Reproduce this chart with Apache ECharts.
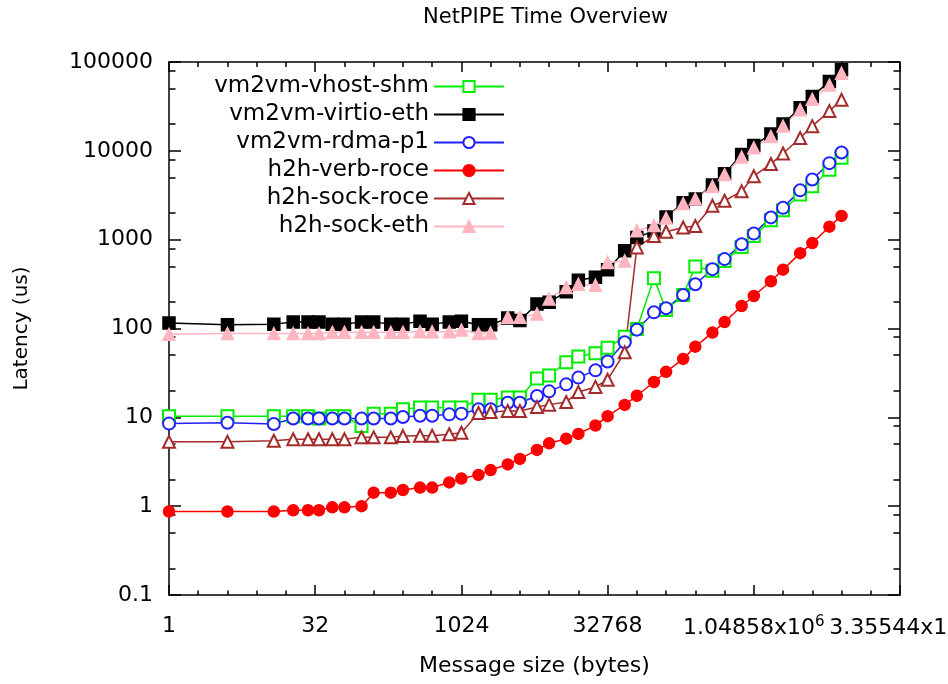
<!DOCTYPE html>
<html>
<head>
<meta charset="utf-8">
<title>NetPIPE Time Overview</title>
<script src="https://cdn.jsdelivr.net/npm/echarts@6/dist/echarts.min.js"></script>
<style>
  html, body { margin: 0; padding: 0; background: #fff; }
  #chart { width: 948px; height: 684px; }
</style>
</head>
<body>
<div id="chart"></div>
<script>
// message sizes (bytes)
var sizes = [1, 4, 12, 19, 27, 35, 48, 64, 96, 128, 192, 256, 384, 512, 768, 1024,
    1536, 2048, 3072, 4096, 6144, 8192, 12288, 16384, 24576, 32768, 49152, 65536,
    98304, 131072, 196608, 262144, 393216, 524288, 786432, 1048576, 1572864,
    2097152, 3145728, 4194304, 6291456, 8388608];

// latency (us)
var vhostShm = [10.3, 10.3, 10.3, 10.3, 10.3, 9.7, 10.3, 10.3, 8.0, 11.0, 11.0, 12.3,
    12.9, 12.9, 12.9, 12.9, 15.8, 15.8, 16.7, 16.7, 27.3, 29.6, 41.8, 48.5, 52.8, 60.9,
    81, 99, 367, 162, 238, 500, 446, 577, 826, 1100, 1650, 2140, 3230, 4000, 6130, 8380];
var virtioEth = [115, 110, 112, 118, 118, 118, 112, 112, 118, 118, 112, 112, 121, 112,
    118, 121, 110, 110, 131, 123, 189, 197, 260, 350, 377, 458, 751, 1060, 1250, 1800,
    2600, 2870, 4120, 5530, 9100, 11450, 15500, 20000, 30600, 41000, 60500, 81600];
var rdmaP1 = [8.5, 8.7, 8.4, 9.7, 9.7, 9.7, 9.7, 9.7, 9.7, 9.7, 9.7, 10.1, 10.4, 10.4,
    10.8, 11.0, 12.3, 12.3, 14.6, 14.6, 17.4, 19.6, 23.5, 28.0, 33.8, 42.5, 70, 97, 152,
    169, 238, 315, 466, 604, 888, 1170, 1780, 2280, 3590, 4750, 7270, 9570];
var verbRoce = [0.87, 0.87, 0.87, 0.9, 0.9, 0.9, 0.97, 0.97, 1.0, 1.42, 1.42, 1.52,
    1.62, 1.62, 1.85, 2.05, 2.25, 2.55, 2.95, 3.4, 4.3, 5.1, 5.75, 6.5, 8.1, 10.3, 13.8,
    17.5, 25, 32.5, 45.5, 62.5, 90, 118, 179, 232, 340, 460, 705, 915, 1400, 1850];
var sockRoce = [5.3, 5.3, 5.45, 5.67, 5.67, 5.67, 5.67, 5.67, 5.95, 5.95, 5.95, 6.15,
    6.2, 6.2, 6.45, 6.7, 11.2, 11.5, 11.8, 11.8, 13.1, 13.9, 14.9, 19.3, 22.0, 26.5, 54,
    818, 1100, 1230, 1370, 1425, 2410, 2740, 3500, 5180, 7120, 9340, 13950, 18950,
    28000, 37500];
var sockEth = [86, 87.6, 87.6, 87.6, 87.6, 87.6, 90.5, 90.5, 90.5, 90.5, 90.5, 90.5, 92,
    92, 92, 96, 87.6, 89, 134, 134, 146, 215, 290, 315, 307, 553, 577, 1262, 1445, 1750,
    2550, 2870, 3975, 5400, 8500, 10800, 14500, 19000, 29000, 38000, 55000, 74700];

var seriesNames = ['vm2vm-vhost-shm', 'vm2vm-virtio-eth', 'vm2vm-rdma-p1',
    'h2h-verb-roce', 'h2h-sock-roce', 'h2h-sock-eth'];
var minorSteps = [2, 5, 8];   // minor tics inside each decade

var FONT = 'DejaVu Sans';
var axisColor = '#000';

// minor tic values for the log10 axis
var yMinor = [];
for (var p = -1; p < 5; p++) {
    minorSteps.forEach(function (m) { yMinor.push(+(m * Math.pow(10, p)).toPrecision(3)); });
}

function fmtSize(v) {
    if (v < 1e6) return String(v);
    var e = Math.floor(Math.log10(v));
    var m = +(v / Math.pow(10, e)).toPrecision(6);
    return '{n|' + m + 'x10}{s|' + e + '}';
}

function pairs(vals) {
    return sizes.map(function (s, i) { return [s, vals[i]]; });
}

function line(name, vals, color, symbol, size) {
    return {
        name: name,
        type: 'line',
        data: pairs(vals),
        symbol: symbol,
        symbolSize: size,
        showAllSymbol: true,
        xAxisIndex: 0,
        yAxisIndex: 0,
        lineStyle: { color: color, width: 1.5 },
        itemStyle: { color: color, borderColor: color, borderWidth: 1.5 },
        emphasis: { disabled: true }
    };
}

function xAx(pos, interval, len, showLine, showLabel) {
    return {
        type: 'log', logBase: 2, min: 1, max: 33554432, interval: interval,
        position: pos,
        axisLine: { show: showLine, onZero: false, lineStyle: { color: axisColor, width: 1.5 } },
        axisTick: { show: true, inside: true, length: len, lineStyle: { color: axisColor, width: 1.5 } },
        axisLabel: showLabel ? {
            formatter: fmtSize, margin: 20, color: '#000', fontFamily: FONT, fontSize: 22,
            rich: {
                n: { fontFamily: FONT, fontSize: 22, color: '#000' },
                s: { fontFamily: FONT, fontSize: 15, color: '#000', padding: [0, 0, 12, 0] }
            }
        } : { show: false },
        splitLine: { show: false }, minorTick: { show: false }
    };
}

function yAx(pos, custom, len, showLine, showLabel) {
    var ax = {
        type: 'log', logBase: 10, min: 0.1, max: 100000,
        position: pos,
        axisLine: { show: showLine, onZero: false, lineStyle: { color: axisColor, width: 1.5 } },
        axisTick: { show: true, inside: true, length: len, lineStyle: { color: axisColor, width: 1.5 } },
        axisLabel: showLabel ? {
            formatter: function (v) { return String(v); },
            margin: 16, color: '#000', fontFamily: FONT, fontSize: 22
        } : { show: false },
        splitLine: { show: false }, minorTick: { show: false }
    };
    if (custom) ax.axisTick.customValues = custom;
    return ax;
}

var chart = echarts.init(document.getElementById('chart'));

var xMain = xAx('bottom', 5, 10, true, true);
xMain.name = 'Message size (bytes)';
xMain.nameLocation = 'middle';
xMain.nameGap = 60;
xMain.nameTextStyle = { fontFamily: FONT, fontSize: 22, color: '#000' };

var yMain = yAx('left', null, 12, true, true);
yMain.name = 'Latency (us)';
yMain.nameLocation = 'middle';
yMain.nameGap = 137;
yMain.nameTextStyle = { fontFamily: FONT, fontSize: 20, color: '#000' };

var option = {
    animation: false,
    backgroundColor: '#fff',
    title: {
        text: 'NetPIPE Time Overview',
        left: 423, top: 7, padding: 0,
        textStyle: { fontFamily: FONT, fontSize: 21, fontWeight: 'normal', color: '#000' }
    },
    grid: { left: 169, right: 48, top: 62, bottom: 89, containLabel: false, outerBoundsMode: 'none' },
    legend: {
        orient: 'vertical', align: 'right',
        right: 443, top: 75, padding: 0, itemGap: 5,
        itemWidth: 70, itemHeight: 14,
        selectedMode: false,
        textStyle: { fontFamily: FONT, fontSize: 23, color: '#000' },
        data: seriesNames
    },
    xAxis: [
        xMain,
        xAx('bottom', 1, 4.5, false, false),
        xAx('top', 5, 10, true, false),
        xAx('top', 1, 5, false, false)
    ],
    yAxis: [
        yMain,
        yAx('left', yMinor, 6.5, false, false),
        yAx('right', null, 12, true, false),
        yAx('right', yMinor, 6.5, false, false)
    ],
    series: [
        line(seriesNames[0], vhostShm, '#00ee00', 'emptyRect', 12),
        line(seriesNames[1], virtioEth, '#000000', 'rect', 12),
        line(seriesNames[2], rdmaP1, '#2020ff', 'emptyCircle', 12),
        line(seriesNames[3], verbRoce, '#ff0000', 'circle', 11),
        line(seriesNames[4], sockRoce, '#a52a2a', 'emptyTriangle', 12),
        line(seriesNames[5], sockEth, '#ffb6c1', 'triangle', 12)
    ]
};

chart.setOption(option);
</script>
</body>
</html>
